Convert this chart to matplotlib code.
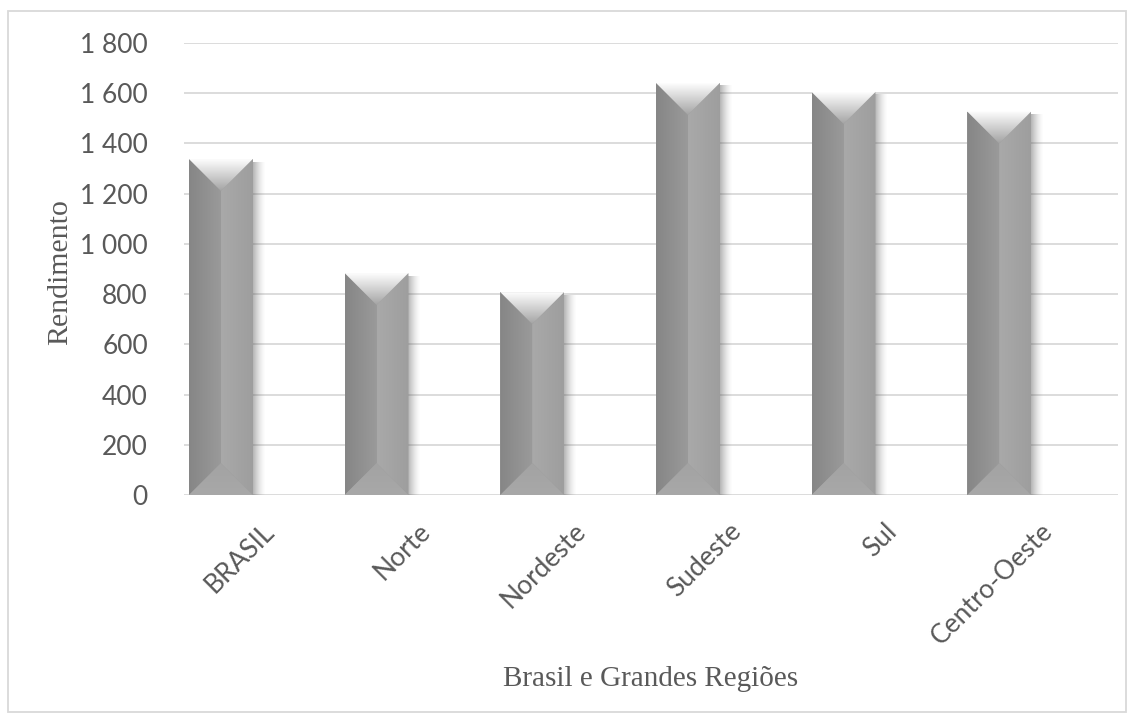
import numpy as np
import matplotlib
matplotlib.use('Agg')
import matplotlib.pyplot as plt
from matplotlib.patches import Polygon, Rectangle

# ─── Dados ───────────────────────────────────────────────────────────────────
regioes = ["BRASIL", "Norte", "Nordeste", "Sudeste", "Sul", "Centro-Oeste"]
rendimento = [1338, 884, 808, 1641, 1605, 1527]
y_ticks = [0, 200, 400, 600, 800, 1000, 1200, 1400, 1600, 1800]

TXT = "#595959"
GRID = "#d9d9d9"

W, H, DPI = 1134, 720, 100
fig = plt.figure(figsize=(W / DPI, H / DPI), dpi=DPI)
fig.patch.set_facecolor("white")

# área do gráfico em pixels
left, right, top, bottom = 184, 1118, 43, 495
ax = fig.add_axes([left / W, 1 - bottom / H, (right - left) / W, (bottom - top) / H])

x = np.arange(len(regioes))
bar_w = 0.41
offset = -0.263  # série única deslocada (cluster com 2 séries)
bars = ax.bar(x + offset, rendimento, width=bar_w, color="#9c9c9c", zorder=3)

ax.set_xlim(-0.5, len(regioes) - 0.5)
ax.set_ylim(0, 1800)
ax.set_yticks(y_ticks)
ax.grid(axis="y", color=GRID, linewidth=1.3, zorder=0)
ax.set_axisbelow(True)
for s in ax.spines.values():
    s.set_visible(False)
ax.tick_params(length=0)
ax.tick_params(axis="y", labelsize=19, labelcolor=TXT, pad=26)
ax.set_yticklabels([f"{v:,}".replace(",", " ") for v in y_ticks], family="Lato")
ax.set_xticks(x)
ax.set_xticklabels(regioes, rotation=45, ha="right", rotation_mode="anchor",
                   family="Lato", fontsize=19, color=TXT)
ax.tick_params(axis="x", pad=17)

# ── bevel + sombra ───────────────────────────────────────────────────────────
px_y = 1800 / (bottom - top)            # unidades de y por pixel
px_x = len(regioes) / (right - left)    # unidades de x por pixel


def grad_fill(poly, extent, c0, c1, horizontal=False):
    n = 64
    t = np.linspace(0, 1, n)
    c0 = np.array(matplotlib.colors.to_rgb(c0))
    c1 = np.array(matplotlib.colors.to_rgb(c1))
    cols = c0[None, :] * (1 - t[:, None]) + c1[None, :] * t[:, None]
    img = cols[None, :, :] if horizontal else cols[:, None, :]
    im = ax.imshow(img, extent=extent, origin="lower", aspect="auto",
                   interpolation="bilinear", zorder=4)
    im.set_clip_path(poly)


for b in bars:
    x0 = b.get_x()
    x1 = x0 + b.get_width()
    xc = (x0 + x1) / 2
    h = b.get_height()
    d = (b.get_width() / 2) / px_x * px_y

    # sombra à direita
    n = 40
    sh = np.ones((1, n, 4))
    sh[..., :3] = 0.3
    sh[0, :, 3] = np.linspace(0.6, 0.0, n) ** 1.5
    ax.imshow(sh, extent=(x1 - 1 * px_x, x1 + 13 * px_x, -3 * px_y, h - 3 * px_y),
              origin="lower", aspect="auto", interpolation="bilinear", zorder=2)

    pl = Polygon([(x0, 0), (xc, d), (xc, h - d), (x0, h)], closed=True,
                 transform=ax.transData, fc="none", ec="none")
    pr = Polygon([(x1, 0), (xc, d), (xc, h - d), (x1, h)], closed=True,
                 transform=ax.transData, fc="none", ec="none")
    pt = Polygon([(x0, h), (x1, h), (xc, h - d)], closed=True,
                 transform=ax.transData, fc="none", ec="none")
    pb = Polygon([(x0, 0), (x1, 0), (xc, d)], closed=True,
                 transform=ax.transData, fc="none", ec="none")
    for p in (pl, pr, pt, pb):
        ax.add_patch(p)
    grad_fill(pl, (x0, xc, 0, h), "#868686", "#9a9a9a", horizontal=True)
    grad_fill(pr, (xc, x1, 0, h), "#a9a9a9", "#9e9e9e", horizontal=True)
    grad_fill(pb, (x0, x1, 0, d), "#a8a8a8", "#a3a3a3")
    grad_fill(pt, (x0, x1, h - d, h), "#a4a4a4", "#fdfdfd")

ax.set_xlim(-0.5, len(regioes) - 0.5)
ax.set_ylim(0, 1800)

# títulos dos eixos
fig.text(60 / W, 1 - 272 / H, "Rendimento", rotation=90, family="Liberation Serif",
         fontsize=21.5, color=TXT, ha="center", va="center")
fig.text(651 / W, 1 - 679 / H, "Brasil e Grandes Regiões", family="Liberation Serif",
         fontsize=21, color=TXT, ha="center", va="center")

# moldura
fig.add_artist(Rectangle((8 / W, 1 - 712 / H), 1118 / W, 701 / H, transform=fig.transFigure,
                         fill=False, ec=GRID, lw=1.3))

fig.savefig("out.png", dpi=DPI, facecolor="white")
